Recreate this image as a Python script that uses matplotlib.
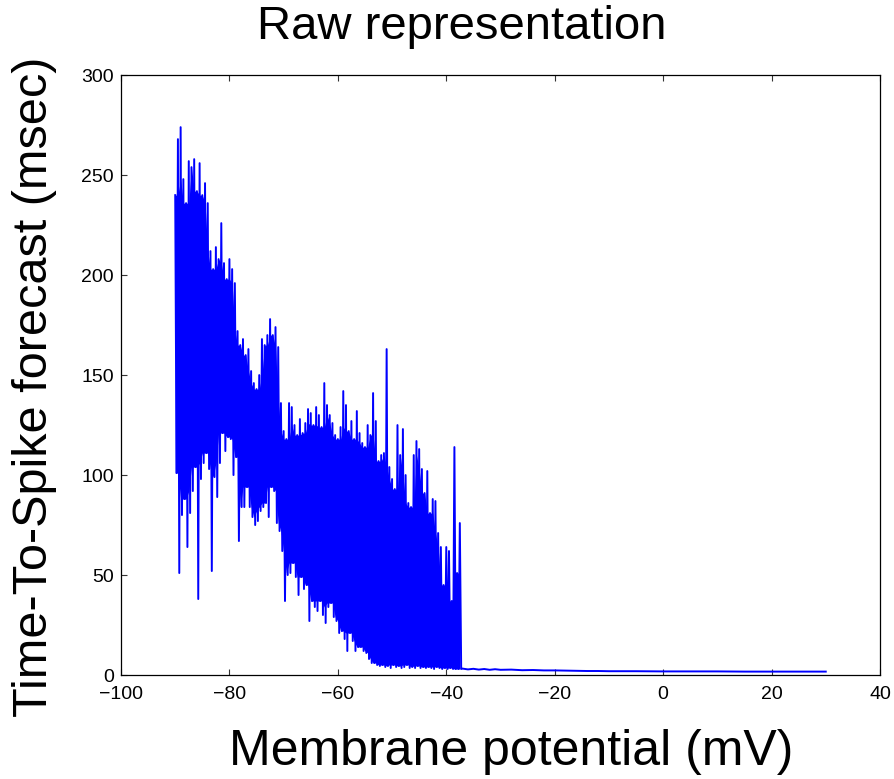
import matplotlib
matplotlib.use("Agg")
import matplotlib.pyplot as plt

# Membrane potential grid (mV) for the dense part of the forecast
v_mv = [-90.0 + 0.5 * i for i in range(106)]

# Upper and lower extent of the time-to-spike forecast (msec) at each potential
tts_hi = [
    240, 268, 274, 248, 236, 257, 254, 258, 242, 256,
    240, 246, 236, 212, 203, 214, 208, 226, 206, 198,
    208, 203, 196, 172, 165, 168, 160, 163, 152, 146,
    143, 150, 168, 165, 170, 178, 170, 174, 164, 136,
    122, 118, 136, 134, 125, 120, 128, 121, 126, 133,
    131, 125, 134, 130, 124, 146, 135, 130, 126, 120,
    118, 124, 142, 135, 122, 127, 118, 132, 121, 116,
    114, 125, 120, 141, 127, 107, 110, 111, 163, 104,
    98, 93, 125, 110, 123, 100, 86, 84, 110, 117,
    113, 103, 91, 102, 81, 88, 87, 71, 64, 45,
    64, 62, 37, 114, 51, 76,
]
tts_lo = [
    101, 51, 80, 88, 64, 81, 92, 104, 38, 98,
    106, 111, 103, 52, 99, 89, 106, 121, 112, 119,
    118, 100, 109, 67, 84, 84, 94, 84, 79, 75,
    77, 82, 84, 86, 79, 94, 92, 76, 72, 62,
    37, 50, 51, 56, 49, 40, 49, 43, 45, 27,
    37, 34, 32, 37, 30, 26, 34, 36, 29, 27,
    21, 22, 18, 12, 21, 17, 12, 14, 14, 12,
    11, 8, 6, 6, 5, 4.5, 5, 4, 4.5, 3.5,
    5, 4, 4.5, 3.5, 4, 5, 3.5, 4, 3.5, 4.5,
    3.5, 4, 3.5, 4, 3.5, 3, 4, 3.5, 3, 3.5,
    3, 3.5, 3, 3, 3, 3,
]

# Depolarised tail where the forecast settles near its floor
tail_mv = [-37.0, -36.0, -35.0, -34.0, -33.0, -32.0, -31.0, -30.0, -28.0, -26.0,
           -24.0, -22.0, -20.0, -18.0, -16.0, -14.0, -12.0, -10.0, -5.0, 0.0,
           5.0, 10.0, 15.0, 20.0, 25.0, 30.0]
tail_tts = [3.2, 2.8, 3.1, 2.7, 3.0, 2.6, 2.9, 2.6, 2.7, 2.4,
            2.5, 2.3, 2.3, 2.2, 2.1, 2.0, 2.0, 1.9, 1.9, 1.8,
            1.8, 1.8, 1.7, 1.7, 1.7, 1.7]

x_ticks = [-100, -80, -60, -40, -20, 0, 20, 40]
y_ticks = [0, 50, 100, 150, 200, 250, 300]


def main():
    plt.rcParams["font.family"] = ["Liberation Sans", "DejaVu Sans"]

    # samples alternate between the upper and lower extent
    xs, ys = [], []
    for v, hi, lo in zip(v_mv, tts_hi, tts_lo):
        xs += [v, v + 0.25]
        ys += [hi, lo]
    xs += tail_mv
    ys += tail_tts

    # solid core of the band: ignore isolated spikes, they come from the trace
    n = len(v_mv)
    core_top, core_bot = [], []
    for i in range(n):
        nb = range(max(i - 1, 0), min(i + 2, n))
        core_top.append(min(tts_hi[j] for j in nb))
        core_bot.append(max(tts_lo[j] for j in nb))

    fig = plt.figure(figsize=(8.95, 7.79), dpi=100)
    ax = fig.add_axes([0.1352, 0.1335, 0.848, 0.770])
    ax.fill_between(v_mv, core_bot, core_top, color="#0000ff", linewidth=0)
    ax.plot(xs, ys, color="#0000ff", linewidth=1.4)

    ax.set_xlim(-100, 40)
    ax.set_ylim(0, 300)
    ax.set_xticks(x_ticks)
    ax.set_yticks(y_ticks)
    ax.set_xticklabels([str(t).replace("-", "\u2212") for t in x_ticks])
    ax.tick_params(axis="both", direction="in", length=4.3, width=0.8,
                   labelsize=14, color="#333333")
    ax.tick_params(axis="x", top=True, pad=8)
    ax.tick_params(axis="y", pad=5)
    for sp in ax.spines.values():
        sp.set_linewidth(0.9)
        sp.set_color("black")

    fig.text(462 / 895, 1 - 27 / 779, "Raw representation", fontsize=34,
             ha="center", va="center")
    fig.text(511 / 895, 1 - 752 / 779, "Membrane potential (mV)", fontsize=36,
             ha="center", va="center")
    fig.text(35 / 895, 1 - 387 / 779, "Time-To-Spike forecast (msec)", fontsize=35,
             ha="center", va="center", rotation=90)

    fig.savefig("out.png", dpi=100)


if __name__ == "__main__":
    main()
